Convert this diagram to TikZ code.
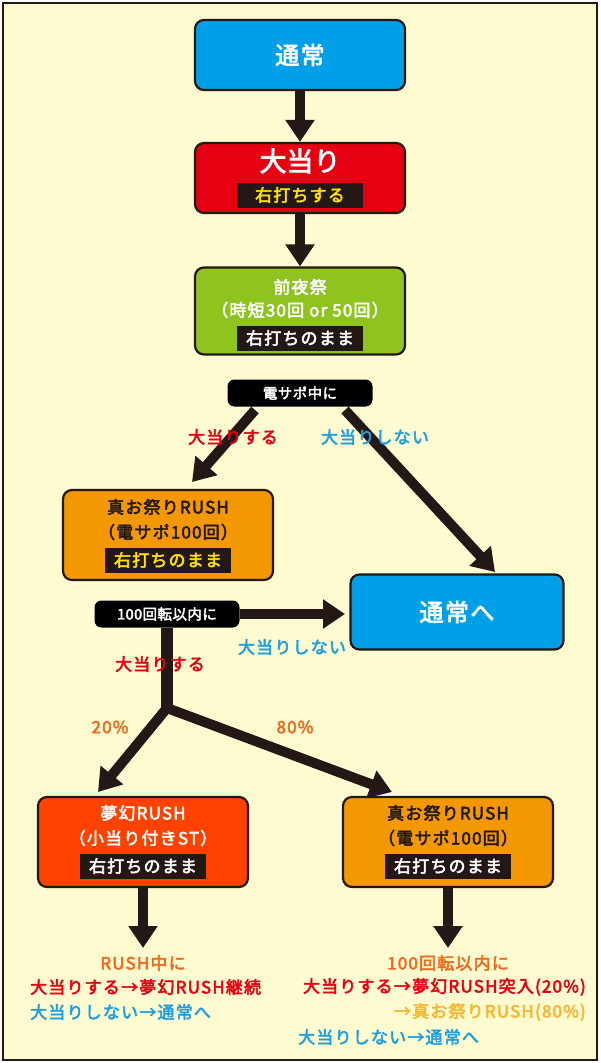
\documentclass[tikz,border=0pt]{standalone}
\usepackage{fontspec}
\setmainfont[AutoFakeBold=3]{Noto Sans CJK JP}
\usetikzlibrary{arrows.meta}
\definecolor{bgcream}{HTML}{FFFBD1}
\definecolor{tblue}{HTML}{00A0E9}
\definecolor{tred}{HTML}{E60012}
\definecolor{tgreen}{HTML}{8FC31F}
\definecolor{torange}{HTML}{F39800}
\definecolor{tfire}{HTML}{FF4200}
\definecolor{tdark}{HTML}{231815}
\definecolor{tyellow}{HTML}{FFE100}
\definecolor{tgold}{HTML}{F8B62D}
\definecolor{lblue}{HTML}{1E9FE0}
\definecolor{lorange}{HTML}{F06A1E}
\tikzset{
  state/.style={draw=tdark,line width=2.2pt,rounded corners=9pt,minimum width=210pt},
  tag/.style={fill=tdark,text=white,inner sep=3pt,minimum height=25pt},
  cond/.style={fill=black,text=white,rounded corners=7pt,minimum height=27pt,font=\bfseries\fontsize{14.5}{14}\selectfont\addfontfeatures{LetterSpace=3}},
  flow/.style={draw=tdark,line width=10pt,-{Triangle[width=28pt,length=22pt]}},
  lbl/.style={font=\bfseries\fontsize{17}{17}\selectfont\addfontfeatures{LetterSpace=7},inner sep=0pt},
  big/.style={font=\bfseries\fontsize{24}{24}\selectfont\addfontfeatures{LetterSpace=6},inner sep=0pt},
}
\begin{document}
\begin{tikzpicture}[x=1pt,y=-1pt]
  \useasboundingbox (0,0) rectangle (600,1063);
  \fill[bgcream,draw=tdark,line width=2pt] (3,3) rectangle (597,1060);
  % boxes
  \node[state,fill=tblue,minimum height=70pt] (normal) at (300,55) {};
  \node[text=white,big] at (normal) {通常};
  \node[state,fill=tred,minimum height=70pt] (hit) at (300,178) {};
  \node[text=white,big,font=\bfseries\fontsize{27}{27}\selectfont] at (300,161) {大当り};
  \node[tag,text=tyellow,minimum width=126pt,lbl] (hitTag) at (300,195) {右打ちする};
  \node[state,fill=tgreen,minimum height=87pt] (eve) at (300,311) {};
  \node[text=white,lbl] at (300,287) {前夜祭};
  \node[text=white,lbl] at (300,310) {（時短30回 or 50回）};
  \node[tag,minimum width=126pt,lbl,text=white] (eveTag) at (300,338) {右打ちのまま};
  \node[cond,minimum width=145pt] (densapo) at (300,393) {電サポ中に};
  \node[state,fill=torange,minimum height=90pt] (rush) at (168,535) {};
  \node[lbl,text=tdark] at (168,507) {真お祭りRUSH};
  \node[lbl,text=tdark] at (168,532) {（電サポ100回）};
  \node[tag,minimum width=126pt,lbl,text=tyellow] (rushTag) at (168,560) {右打ちのまま};
  \node[state,fill=tblue,minimum height=75pt,minimum width=213pt] (back) at (457,612) {};
  \node[text=white,big] at (back) {通常へ};
  \node[cond,minimum width=145pt] (within) at (167,614) {100回転以内に};
  \node[state,fill=tfire,minimum height=90pt] (mugen) at (143,842) {};
  \node[lbl,text=white] at (143,813) {夢幻RUSH};
  \node[lbl,text=white] at (143,838) {（小当り付きST）};
  \node[tag,minimum width=126pt,lbl,text=white] (mugenTag) at (143,866) {右打ちのまま};
  \node[state,fill=torange,minimum height=90pt] (rush2) at (448,842) {};
  \node[lbl,text=tdark] at (448,813) {真お祭りRUSH};
  \node[lbl,text=tdark] at (448,838) {（電サポ100回）};
  \node[tag,minimum width=126pt,lbl,text=white] (rush2Tag) at (448,866) {右打ちのまま};
  % arrows
  \draw[flow] (normal.south) -- (hit.north);
  \draw[flow] (hit.south) -- (eve.north);
  \coordinate (splitL) at (255,410);
  \coordinate (splitR) at (345,410);
  \draw[flow] (splitL) -- (192,482);
  \draw[flow] (splitR) -- (495,572);
  \draw[flow] (within.east) -- (345,614);
  \coordinate (fork) at (167,708);
  \draw[draw=tdark,line width=12pt] (167,628) -- (fork);
  \draw[flow] (fork) -- (98,792);
  \draw[flow] (fork) -- (392,792);
  \coordinate (endL) at (143,948);
  \coordinate (endR) at (448,948);
  \draw[flow] (mugen.south) -- (endL);
  \draw[flow] (rush2.south) -- (endR);
  % labels
  \node[lbl,text=tred] (yesA) at (233,437) {大当りする};
  \node[lbl,text=lblue] (noA) at (375,437) {大当りしない};
  \node[lbl,text=lblue] (noB) at (292,647) {大当りしない};
  \node[lbl,text=tred] (yesB) at (160,664) {大当りする};
  \node[lbl,text=lorange] (pc20) at (110,727) {20\%};
  \node[lbl,text=lorange] (pc80) at (295,727) {80\%};
  \node[lbl,text=lorange] (rushIn) at (143,963) {RUSH中に};
  \node[lbl,text=tred,anchor=west] (mugenYes) at (30,987) {大当りする→夢幻RUSH継続};
  \node[lbl,text=lblue,anchor=west] (mugenNo) at (30,1012) {大当りしない→通常へ};
  \node[lbl,text=lorange] (within2) at (448,963) {100回転以内に};
  \node[lbl,text=tred,anchor=east] (rushYes) at (586,987) {大当りする→夢幻RUSH突入(20\%)};
  \node[lbl,text=tgold,anchor=east] (rushKeep) at (586,1012) {→真お祭りRUSH(80\%)};
  \node[lbl,text=lblue,anchor=west] (rushNo) at (298,1037) {大当りしない→通常へ};
\end{tikzpicture}
\end{document}
